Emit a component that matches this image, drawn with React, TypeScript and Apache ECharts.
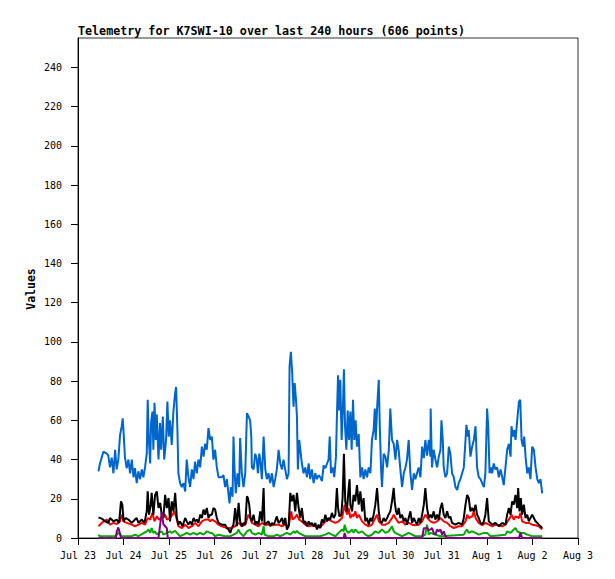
import React, { useEffect, useRef } from "react";
import * as echarts from "echarts";

// x values are hours since Jul 23 00:00
const dayLabels = ["Jul 23", "Jul 24", "Jul 25", "Jul 26", "Jul 27", "Jul 28", "Jul 29", "Jul 30", "Jul 31", "Aug 1", "Aug 2", "Aug 3"];
const yTicks = [0, 20, 40, 60, 80, 100, 120, 140, 160, 180, 200, 220, 240];
const xTicks = [0, 24, 48, 72, 96, 120, 144, 168, 192, 216, 240, 264];

const blueSeries: [number, number][] = [
  [10.8,34],[11.6,38],[13.4,44],[15.2,43],[16.0,42],[16.9,36],[17.8,41],[18.7,33],[19.6,45],[20.4,35],[21.3,40],[22.2,52.6],[23.1,57],[23.6,61],[24.0,55],[24.8,41],[25.7,35.6],[26.6,40],[27.5,33],[28.4,40],[29.3,31],[30.1,35.6],[31.0,28],[31.9,34],[32.8,30],[33.7,35],[34.5,31],[35.4,36],[36.3,43],[36.8,70.5],[37.4,50],[38.1,38],[38.6,59],[39.3,64.5],[39.8,45],[40.4,69],[41.1,50],[41.6,63],[42.5,40],[43.3,58.6],[43.9,45],[44.8,62],[45.5,40],[46.5,50],[47.2,69.6],[47.9,51.7],[48.6,60],[49.5,47.5],[50.4,65],[51.3,74],[51.8,77],[52.5,55],[53.0,33],[53.9,28],[54.8,26],[55.7,28],[56.6,23.7],[57.4,40],[58.3,31],[59.2,26],[60.1,35],[61.0,30],[61.8,39],[62.7,33],[63.6,40],[64.5,36],[65.4,46.6],[66.3,41.5],[67.1,48],[68.0,45],[68.9,56],[69.8,50],
  [70.7,51.7],[71.5,40],[72.4,45],[73.3,36],[74.2,31],[75.9,31],[76.8,32],[77.7,26],[78.6,30],[79.5,22],[80.0,17.7],[80.7,26],[81.6,21],[82.1,51.7],[82.6,36],[83.3,22.8],[84.2,33],[85.1,26],[85.6,51],[86.5,33],[87.4,26],[88.3,33],[89.2,63.7],[90.0,62],[90.9,60],[91.5,51.7],[91.8,36],[92.7,35],[93.6,43],[94.4,40],[95.0,33],[95.7,43],[96.2,40],[97.1,30],[98.0,51.7],[98.9,35],[99.7,30],[100.6,33],[101.5,28],[102.4,33],[103.3,26],[104.1,30],[105.0,35],[105.9,45],[106.8,38],[107.7,35],[108.5,40],[109.4,35],[110.3,30],[111.2,33],[111.7,87.5],[112.4,95],[113.1,84],[113.8,67],[114.4,79],[115.1,70.5],[115.6,62],[116.1,35],[116.8,50],[117.4,45],[118.2,38],[119.1,33],[120.0,36],[120.9,31],[121.8,38],[122.6,30],[123.5,35],[124.4,28],[125.3,33],[126.2,30],[127.0,32],[127.9,31],
  [128.8,29],[129.7,37],[130.6,35.6],[131.5,38],[132.3,40],[132.9,51.7],[133.6,33],[134.5,36],[135.3,31],[136.2,41.5],[136.7,62],[137.3,83],[137.8,65],[138.5,80.7],[139.2,50],[139.9,67],[140.4,86],[141.0,57],[141.7,45],[142.4,65],[143.1,50],[143.8,64.5],[144.5,45],[145.2,70.5],[145.9,50],[146.6,60],[147.3,46.6],[148.2,53],[149.1,31],[150.0,36],[150.8,30],[151.7,35],[152.6,31],[153.5,36],[154.4,33],[155.2,50],[156.1,55],[156.7,66],[157.2,50],[157.9,66],[158.8,80.7],[159.3,58.6],[160.0,36],[160.5,26],[161.4,43],[162.3,41.5],[163.2,36],[164.1,45],[164.9,66],[165.8,50],[166.7,48],[167.6,40],[168.5,50],[169.3,45],[170.2,35],[171.1,26],[172.0,33],[172.9,36],[173.7,40],[174.6,50],[175.5,33],[176.4,24.5],[177.3,33],[178.1,30],[179.0,33],[179.9,36],[180.8,31],[181.7,46.6],[182.6,40.7],[183.4,50],[184.3,42],[185.2,50],[186.1,41.5],
  [186.2,66],[186.9,36],[187.8,45],[188.7,40],[189.6,36],[190.5,41.5],[191.4,45],[191.9,60],[192.6,50],[193.1,36],[194.0,31],[194.9,33],[195.8,46.6],[196.6,43],[197.5,33],[198.4,31],[199.3,26],[200.2,24.5],[201.0,28],[201.9,30],[202.8,33],[203.7,36],[204.6,50],[205.1,57.7],[205.8,51.7],[206.3,55],[207.2,41.5],[208.1,46.6],[209.0,50],[209.9,57],[210.7,36],[211.6,31],[212.5,30],[213.4,28],[214.3,26],[215.1,33],[216.0,66],[216.6,57],[217.3,33],[218.1,36],[218.7,33],[219.5,38],[220.4,35],[221.3,36],[222.2,31],[223.1,35],[224.0,31],[224.8,27],[225.7,36],[226.6,45],[227.5,48],[228.4,41.5],[228.9,57],[229.6,51.7],[230.3,55],[231.0,50],[231.9,60],[232.8,69.6],[233.5,70.5],[234.2,50],[234.9,46.6],[235.6,51.7],[236.3,41.5],[237.2,33],[238.0,36],[238.9,30],[239.8,46.6],[240.7,45],[241.6,36],[242.5,30],[243.3,28],[244.2,30],[245.1,22.8],
];

const redSeries: [number, number][] = [
  [10.8,6],[12.5,7.7],[14.3,8.9],[15.2,9.4],[16.9,6.8],[18.7,7.7],[20.4,7.1],[22.2,8.5],[23.1,11.9],[24.0,8.5],[25.7,7.7],[28.4,6.8],[30.1,6],[31.9,6.8],[33.7,7.7],[35.4,6.8],[36.8,10.2],[38.1,9.4],[39.3,12.8],[40.4,8.5],[41.6,11],[42.8,9.4],[44.2,10.2],[46.0,11.9],[46.9,9.4],[48.6,10.2],[49.9,11.9],[50.9,13.6],[52.2,9.4],[53.0,6],[54.8,5.1],[56.6,6.8],[58.3,5.1],[60.1,6],[61.9,7.7],[63.6,6],[65.4,8.5],[67.1,9.4],[68.9,9.4],[69.8,8.5],
  [70.7,9.4],[72.4,8.5],[74.2,6.8],[75.9,6],[77.7,5.4],[79.5,5.1],[81.2,5.1],[83.0,6],[84.8,7.7],[86.5,6],[88.3,6.8],[90.0,11.9],[90.9,10.2],[91.8,7.7],[93.6,6.8],[95.3,6],[97.1,7.7],[98.5,6.8],[100.6,6.8],[102.4,6.5],[104.1,6.8],[105.9,6.8],[107.7,6],[109.4,6.8],[111.2,6],[112.6,13.6],[113.3,9.4],[114.4,10.2],[115.6,11.9],[116.8,9.4],[118.2,8.5],[120.0,6.8],[121.8,6],[123.5,6.5],[125.3,6],[127.9,5.4],
  [130.6,8.5],[132.3,9.4],[134.1,8.5],[135.9,7.7],[137.6,8.5],[139.4,10.2],[140.8,17],[141.5,13.6],[142.2,11.9],[142.9,15.3],[143.8,10.2],[144.7,11.9],[145.5,11],[146.4,13.6],[147.3,10.2],[148.2,11.9],[150.0,8.5],[151.7,6.8],[153.5,6],[155.2,6.8],[157.0,10.2],[157.9,11.9],[158.8,8.5],[160.5,6.8],[162.3,6.8],[164.0,7.7],[165.8,10.2],[166.7,11.9],[167.6,10.2],[169.3,7.7],[171.1,8.5],[172.9,6.8],[174.6,7.7],[176.4,6.8],[178.1,6.5],[179.9,6.8],[181.7,8.5],[183.4,11.9],[185.2,9.4],[186.1,8.5],
  [187.8,7.7],[189.6,8.5],[191.4,10.2],[193.1,8.5],[194.9,7.7],[196.6,6],[198.4,5.1],[201.0,6],[202.8,6],[204.6,8.5],[205.5,11.9],[206.3,10.2],[208.1,11],[209.0,13.6],[209.9,10.2],[211.6,7.7],[213.4,6.5],[215.1,7.7],[216.9,6.8],[218.7,6],[220.4,6.8],[222.2,6.5],[224.0,6],[225.7,6.8],[227.5,9.4],[228.9,11.9],[230.1,9.4],[231.0,11],[232.8,10.2],[233.6,12.8],[234.5,8.5],[236.3,7.7],[238.0,7.7],[239.8,6.8],[241.6,6.5],[243.3,6],[245.1,4.3],
];

const blackSeries: [number, number][] = [
  [10.8,10.5],[12.5,9.9],[14.3,8.5],[16.0,7.7],[16.9,10.2],[18.7,8.5],[20.4,9.4],[21.7,7.7],[22.7,18.7],[23.4,17],[24.1,8.5],[25.2,10.2],[26.6,9.4],[28.4,7.7],[30.1,9.4],[31.0,10.2],[31.9,7.7],[33.7,9.4],[35.1,7.7],[36.3,13.6],[36.8,23.8],[37.5,11.9],[38.4,17],[38.9,23],[39.8,11.9],[40.7,22],[41.6,23.8],[42.5,15.3],[43.4,17.9],[44.2,11.9],[45.1,10.2],[46.0,22],[46.9,15.3],[47.8,20.4],[48.6,8.5],[49.5,18.7],[50.4,13.6],[51.3,23],[52.2,10.2],[53.0,6.8],[53.9,8.5],[55.2,6],[56.6,10.2],[57.4,8.5],[58.3,6.8],[59.2,8.5],[60.1,6.8],[61.0,10.2],[61.9,8.5],[62.7,9.4],[63.6,7.7],[64.5,11.9],[65.4,10.2],[66.3,14.5],[67.1,11.9],[68.0,15.3],[68.9,10.2],[69.8,11.9],
  [70.7,11.9],[71.5,15.3],[72.4,14.5],[73.3,10.2],[74.2,7.7],[75.9,6.8],[77.7,6.8],[78.6,5.1],[79.5,4.3],[80.4,2.6],[81.2,5.1],[82.1,6.8],[83.0,15.3],[83.9,6],[84.8,17.9],[85.6,8.5],[86.5,6],[87.4,7.7],[88.3,6.8],[89.2,21.3],[89.7,20.4],[90.4,17],[91.1,10.2],[91.8,8.5],[92.7,11.9],[93.6,6.8],[94.4,8.5],[95.3,6.8],[96.2,13.6],[97.1,8.5],[98.0,25.5],[98.5,6.8],[99.7,7.7],[100.6,8.5],[101.5,6],[102.4,7.7],[103.3,6.8],[104.1,8.5],[105.0,11],[105.9,7.7],[106.8,8.5],[107.7,10.2],[108.5,6.8],[109.4,10.2],[110.3,4.3],[111.2,6],[112.1,23],[112.9,18.7],[113.8,22],[114.7,13.6],[115.6,23],[116.5,15.3],[117.4,10.2],[118.2,15.3],[119.1,7.7],[120.0,8.5],[120.9,6],[121.8,8.5],[122.6,6.8],[123.5,7.7],[124.4,6],[125.3,7.7],[126.2,4.3],[127.0,6.8],[127.9,5.1],
  [128.8,9.4],[129.7,7.7],[130.6,11.9],[131.5,8.5],[132.3,10.2],[133.2,9.4],[134.1,12.8],[135.0,10.2],[135.9,11.9],[136.7,25.5],[137.3,15.3],[138.0,11],[139.0,11.9],[139.7,20.4],[140.4,43],[141.1,18.7],[142.0,13.6],[142.9,25.5],[143.4,30],[143.8,17],[144.7,13.6],[145.5,22],[146.4,18.7],[147.3,27],[148.2,17],[149.1,23.8],[150.0,13.6],[150.8,20.4],[151.7,8.5],[152.6,10.2],[153.5,6.8],[154.4,10.2],[155.2,8.5],[156.1,11.9],[157.0,17],[157.9,25.5],[158.8,13.6],[159.6,8.5],[160.5,7.7],[161.4,10.2],[162.3,8.5],[163.2,10.2],[164.0,11.9],[164.9,13.6],[165.8,18.7],[166.7,25.5],[167.2,18.7],[167.9,13.6],[168.6,11.9],[169.3,15.3],[170.2,10.2],[171.1,11.9],[172.0,8.5],[172.9,10.2],[173.7,6.8],[174.6,10.2],[175.5,13.6],[176.4,7.7],[177.3,10.2],[178.1,8.5],[179.0,6.8],[179.9,10.2],[180.8,7.7],[181.7,11.9],[182.6,17],[183.4,25.5],[184.3,15.3],[185.2,10.2],[186.1,11.9],
  [186.9,10.2],[187.8,13.6],[188.7,9.4],[189.6,11.9],[190.5,9.4],[191.4,15.3],[192.2,17.9],[193.1,11.9],[194.0,10.2],[194.9,13.6],[195.8,10.2],[196.6,11],[197.5,7.7],[199.3,6.8],[201.0,7.7],[202.8,6.8],[203.7,10.2],[204.6,17],[205.5,22],[206.3,20.4],[207.2,13.6],[208.1,15.3],[209.0,13.6],[209.9,17],[210.7,11.9],[211.6,10.2],[212.5,7.7],[213.4,6.8],[214.3,8.5],[215.1,11.9],[216.0,20.4],[216.9,8.5],[217.8,7.7],[218.7,6.8],[220.4,7.7],[222.2,6],[224.0,7.7],[225.7,6.8],[226.6,11.9],[227.5,15.3],[228.4,11.9],[229.2,18.7],[230.1,17],[231.0,22],[231.9,15.3],[232.4,25.5],[233.1,13.6],[233.8,20.4],[234.5,11.9],[235.4,17],[236.3,10.2],[237.2,11.9],[238.0,8.5],[238.9,10.2],[239.8,11.9],[240.7,10.2],[241.6,8.5],[242.5,7.7],[243.3,6.8],[244.2,6],[245.1,5.1],
];

const greenSeries: [number, number][] = [
  [10.8,1.7],[11.6,0.9],[19.6,0.9],[21.3,2.6],[23.1,0.9],[28.4,0.9],[30.1,1.7],[31.9,0.9],[36.3,3.4],[37.2,4.3],[38.1,2.6],[38.9,5.1],[39.8,2.6],[40.7,3.4],[41.6,1.7],[42.5,2.6],[44.2,3.4],[45.1,1.7],[46.9,2.6],[48.6,3.4],[49.5,2.6],[51.3,3.7],[52.2,2.6],[53.9,0.9],[55.7,1.7],[57.4,2.6],[59.2,1.7],[61.0,2.6],[62.7,1.7],[64.5,2.6],[66.3,1.7],[68.0,3.4],[69.8,2.6],
  [70.7,2.6],[72.4,0.9],[74.2,1.7],[77.7,0.9],[80.4,0.9],[82.1,1.7],[83.9,2.6],[84.8,4.3],[85.6,2.6],[87.4,0.9],[89.2,3.4],[90.9,4.3],[91.8,2.6],[93.6,1.7],[95.3,2.6],[97.1,1.7],[98.0,6],[98.5,1.7],[100.6,0.9],[103.3,0.9],[105.0,1.7],[106.8,0.9],[108.5,1.7],[110.3,2.6],[112.1,1.7],[113.8,3.4],[114.7,2.6],[115.6,3.7],[116.5,2.6],[118.2,1.7],[120.0,0.9],[123.5,0.9],[127.9,0.9],
  [130.6,1.7],[132.3,2.6],[134.1,1.7],[135.9,0.9],[137.6,2.6],[139.4,4.3],[140.3,3.4],[140.8,6.8],[141.5,4.3],[142.6,2.6],[143.8,3.4],[144.7,4.3],[145.5,2.6],[146.4,4.3],[147.3,3.4],[148.2,2.6],[150.0,3.4],[151.7,1.7],[153.5,0.9],[155.2,1.7],[157.0,3.4],[158.8,2.6],[160.5,4.3],[162.3,2.6],[164.0,3.4],[165.8,6],[166.7,3.4],[167.6,2.6],[169.3,1.7],[171.1,0.9],[172.9,1.7],[174.6,2.6],[176.4,1.7],[178.1,0.9],[181.7,0.9],[183.4,1.7],[184.3,6.8],[185.2,1.7],[186.1,2.6],
  [188.7,1.7],[191.4,0.9],[203.7,1.7],[204.6,3.4],[205.5,4.3],[206.3,2.6],[208.1,3.4],[209.9,2.6],[211.6,1.7],[214.3,2.6],[216.0,2.6],[217.8,0.9],[225.7,1.7],[226.6,3.4],[228.4,2.6],[230.1,4.3],[231.0,5.1],[231.9,3.4],[233.6,2.6],[235.4,2.6],[237.2,1.7],[239.8,0.9],[245.1,0.9],
];

const purpleSeries: [number, number][] = [
  [10.8,0],[20.0,0],[20.4,3],[21.3,5.4],[22.2,2],[22.7,0],[42.5,0],[43.4,7],[44.2,13],[45.1,7],[46.0,6],[46.9,5],[47.4,0],[140.3,0],[140.8,2.6],[141.5,0],[181.7,0],[182.6,5],[183.4,5],[184.3,5.1],[185.2,4],[186.1,4.3],[186.9,5.1],[187.8,2.6],[188.7,1.7],[189.6,4.3],[190.5,3.4],[191.4,4.3],[192.2,1.7],[193.1,3.4],[194.0,0.9],[194.9,0],[232.8,0],[233.6,2.6],[234.5,0],[245.1,0],
];

const MONO = "'DejaVu Sans Mono', monospace";

function lineSeries(data: [number, number][], color: string) {
  return {
    type: "line",
    data,
    showSymbol: false,
    symbol: "none",
    lineStyle: { color, width: 2 },
    itemStyle: { color },
    silent: true,
  };
}

export default function App() {
  const ref = useRef<HTMLDivElement>(null);
  useEffect(() => {
    if (!ref.current) return;
    const chart = echarts.init(ref.current, null, { renderer: "svg" });
    chart.setOption({
      animation: false,
      backgroundColor: "#ffffff",
      title: {
        text: "Telemetry for K7SWI-10 over last 240 hours (606 points)",
        left: 78,
        top: 25,
        padding: 0,
        textStyle: { fontFamily: MONO, fontSize: 11.7, fontWeight: "bold", color: "#000" },
      },
      graphic: [
        {
          type: "text",
          x: 31,
          y: 289,
          rotation: Math.PI / 2,
          style: {
            text: "Values",
            fontFamily: MONO,
            fontSize: 11.5,
            fontWeight: "bold",
            fill: "#000",
            align: "center",
            verticalAlign: "middle",
          },
        },
      ],
      grid: { left: 78, right: 37, top: 38, bottom: 41, show: true, borderColor: "#333", borderWidth: 1 },
      xAxis: {
        type: "value",
        min: 0,
        max: 264,
        interval: 24,
        axisLine: { show: true, onZero: false, lineStyle: { color: "#000", width: 1 } },
        axisTick: { show: true, inside: false, length: 7, lineStyle: { color: "#000" }, customValues: xTicks },
        axisLabel: {
          customValues: xTicks,
          formatter: (v: number) => dayLabels[Math.round(v / 24)] ?? "",
          fontFamily: MONO,
          fontSize: 10,
          color: "#000",
          margin: 12,
        },
        splitLine: { show: false },
      },
      yAxis: {
        type: "value",
        min: 0,
        max: 255,
        interval: 20,
        axisLine: { show: true, lineStyle: { color: "#000", width: 1 } },
        axisTick: { show: true, inside: false, length: 7, lineStyle: { color: "#000" }, customValues: yTicks },
        axisLabel: { customValues: yTicks, fontFamily: MONO, fontSize: 10, color: "#000", margin: 16 },
        splitLine: { show: false },
      },
      series: [
        lineSeries(blueSeries, "#0066cc"),
        lineSeries(redSeries, "#ff0000"),
        lineSeries(blackSeries, "#000000"),
        lineSeries(greenSeries, "#00aa00"),
        lineSeries(purpleSeries, "#800080"),
      ],
    });
    return () => chart.dispose();
  }, []);
  return <div ref={ref} style={{ position: "fixed", left: 0, top: 0, width: 615, height: 579, background: "#fff" }} />;
}
